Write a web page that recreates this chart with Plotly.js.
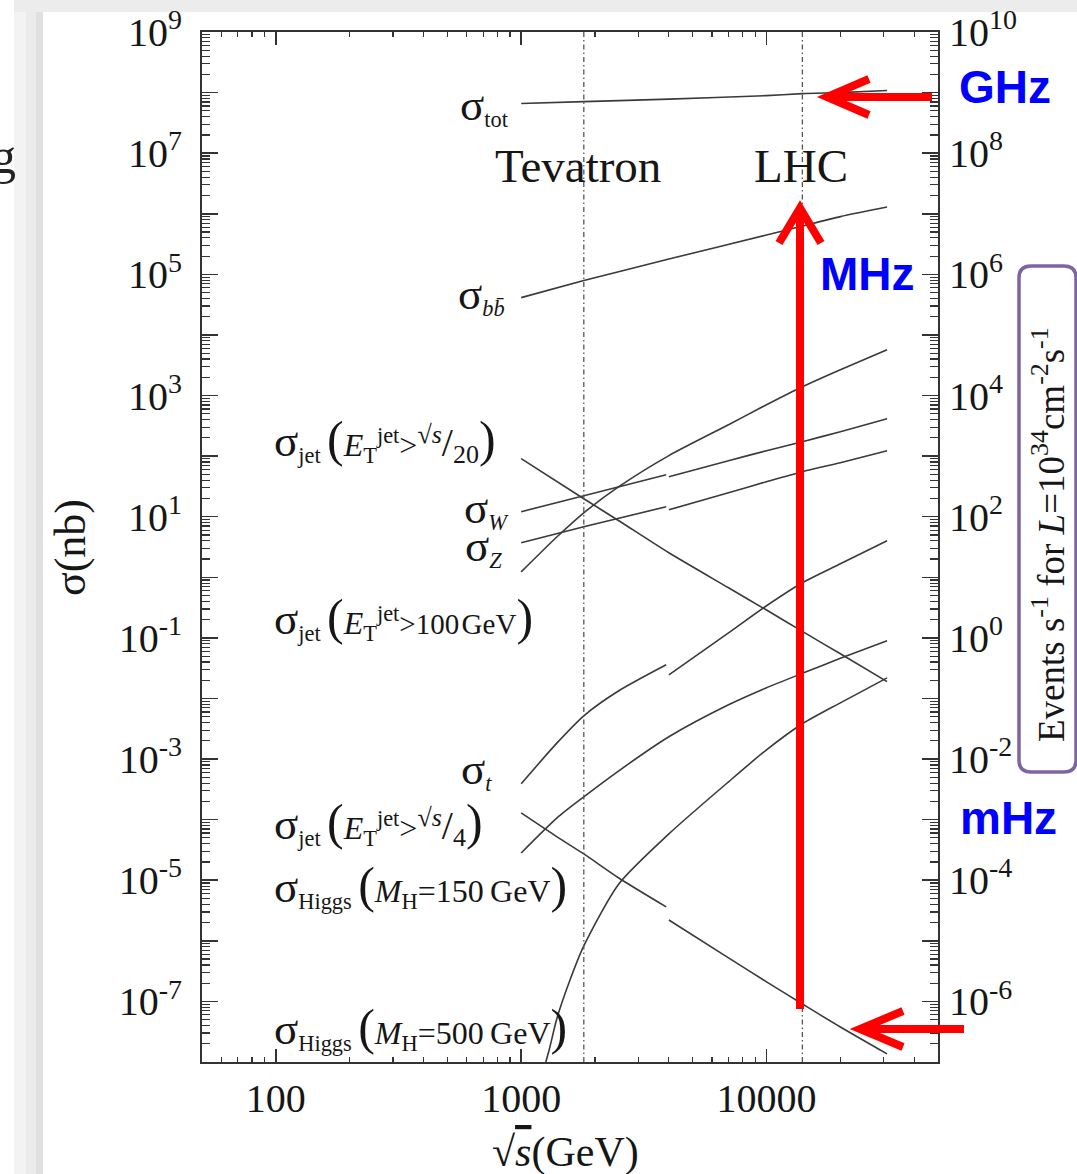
<!DOCTYPE html>
<html><head><meta charset="utf-8">
<script src="https://cdn.plot.ly/plotly-3.0.1.min.js"></script>
<style>html,body{margin:0;padding:0;background:#fff}</style>
</head><body><div id="chart" style="width:1077px;height:1174px"></div>
<script>
// ---- data (sqrt(s) in GeV, cross sections in nb) ----
const totX = [1000, 1800, 4000, 10000, 14000, 20000, 31000];
const totY = [6.6e7, 7.1e7, 7.8e7, 8.9e7, 9.6e7, 1.0e8, 1.08e8];

const bbX = [1000, 1800, 4000, 10000, 14000, 20000, 31000];
const bbY = [4.13e4, 7.89e4, 1.79e5, 4.45e5, 6.26e5, 8.98e5, 1.29e6];

const jet20X = [1000, 1800, 2500, 4000, 7000, 10000, 14000, 20000, 31000];
const jet20Y = [90.8, 19.8, 8.59, 2.54, 0.671, 0.288, 0.128, 0.0546, 0.0190];

const wPpbarX = [1000, 1800, 3900];
const wPpbarY = [12.1, 22.2, 49.3];
const wPpX = [4000, 7000, 10000, 14000, 20000, 31000];
const wPpY = [45.7, 84.0, 122.8, 173, 253, 415];

const zPpbarX = [1000, 1800, 3900];
const zPpbarY = [3.72, 6.84, 14.6];
const zPpX = [4000, 7000, 10000, 14000, 20000, 31000];
const zPpY = [13.0, 24.9, 37.8, 55.3, 77.9, 123];

const jet100X = [1000, 1400, 1800, 2500, 4000, 7000, 10000, 14000, 20000, 31000];
const jet100Y = [1.23, 4.67, 11.6, 31.3, 102, 330, 706, 1400, 2670, 5710];

const topPpbarX = [1000, 1400, 1800, 2500, 3900];
const topPpbarY = [3.9e-4, 1.85e-3, 5.18e-3, 0.0134, 0.036];
const topPpX = [4000, 7000, 10000, 14000, 20000, 31000];
const topPpY = [0.0246, 0.121, 0.339, 0.813, 1.67, 4.01];

const jet4PpbarX = [1000, 1400, 1800, 2500, 3900];
const jet4PpbarY = [1.29e-4, 5.2e-5, 2.72e-5, 1.09e-5, 3.63e-6];
const jet4PpX = [4000, 7000, 10000, 14000, 20000, 31000];
const jet4PpY = [2.21e-6, 5.22e-7, 2.1e-7, 9.08e-8, 3.78e-8, 1.36e-8];

const h150X = [1000, 1400, 1800, 2500, 4000, 7000, 10000, 14000, 20000, 31000];
const h150Y = [2.82e-5, 1.07e-4, 2.38e-4, 6.4e-4, 2.33e-3, 7.85e-3, 0.0150, 0.0260, 0.0460, 0.0896];

const h500X = [1260, 1300, 1400, 1570, 1800, 2500, 4000, 7000, 10000, 14000, 20000, 31000];
const h500Y = [1.0e-8, 1.58e-8, 5.33e-8, 2.09e-7, 8.24e-7, 8.69e-6, 5.82e-5, 4.21e-4, 1.42e-3, 3.82e-3, 8.47e-3, 0.0219];

const colliders = ['Tevatron', 'LHC'];
const colliderEnergy = [1800, 14000];

const xTickVals = [100, 1000, 10000];
const xTickText = ['100', '1000', '10000'];
const leftExps = [-8,-7,-6,-5,-4,-3,-2,-1,0,1,2,3,4,5,6,7,8,9];
const rightExps = [-6,-4,-2,0,2,4,6,8,10];
const rateLabels = ['GHz', 'MHz', 'mHz'];

// ---- layout helpers (pixel -> paper) ----
const Lp = 202, Rp = 938, Tp = 32, Bp = 1062;
const Wp = Rp - Lp, Hp = Bp - Tp;
const px = x => (x - Lp) / Wp;
const py = y => (Bp - y) / Hp;
function toPath(segs) {
  return segs.map(s => {
    const c = s[0]; const v = s.slice(1); const pts = [];
    for (let i = 0; i < v.length; i += 2) pts.push(px(v[i]).toFixed(5) + ',' + py(v[i+1]).toFixed(5));
    return c + ' ' + pts.join(' ');
  }).join(' ');
}

const SERIF = 'Liberation Serif, Times New Roman, serif';
const SANS = 'Liberation Sans, Arial, sans-serif';
const ink = '#161616';

function curve(x, y, name) {
  return {type:'scatter', mode:'lines', x:x, y:y, name:name,
    line:{color:'#3a3a3a', width:1.6, shape:'spline', smoothing:0.7},
    hoverinfo:'skip', showlegend:false};
}

const traces = [
  curve(totX, totY, 'sigma_tot'),
  curve(bbX, bbY, 'sigma_bb'),
  curve(jet20X, jet20Y, 'sigma_jet sqrt(s)/20'),
  curve(wPpbarX, wPpbarY, 'sigma_W ppbar'),
  curve(wPpX, wPpY, 'sigma_W pp'),
  curve(zPpbarX, zPpbarY, 'sigma_Z ppbar'),
  curve(zPpX, zPpY, 'sigma_Z pp'),
  curve(jet100X, jet100Y, 'sigma_jet 100 GeV'),
  curve(topPpbarX, topPpbarY, 'sigma_t ppbar'),
  curve(topPpX, topPpY, 'sigma_t pp'),
  curve(jet4PpbarX, jet4PpbarY, 'sigma_jet sqrt(s)/4 ppbar'),
  curve(jet4PpX, jet4PpY, 'sigma_jet sqrt(s)/4 pp'),
  curve(h150X, h150Y, 'sigma_Higgs 150'),
  curve(h500X, h500Y, 'sigma_Higgs 500')
];
colliderEnergy.forEach((e, i) => {
  traces.push({type:'scatter', mode:'lines', x:[e, e], y:[1e-8, 1e9], name:colliders[i],
    line:{color:'#555', width:1.3, dash:'5px,3px,1.5px,3px'}, hoverinfo:'skip', showlegend:false});
});
traces.push({type:'scatter', mode:'lines', x:[], y:[], yaxis:'y2', hoverinfo:'skip', showlegend:false});

const sup = e => '10<sup>' + (e < 0 ? '-' + (-e) : e) + '</sup>';
const tickFont = {family:SERIF, size:40, color:ink};

const SIG = '<span style="font-size:45px">σ</span>';
const LP = '<span style="font-size:50px">(</span>';
const RP = '<span style="font-size:50px">)</span>';
const ETJ = '<i>E</i><sub>T</sub><sup>jet</sup>';
const FRAC = d => '<sup><span style="font-size:26px">√<i>s</i></span></sup><span style="font-size:40px">/</span><sub><span style="font-size:26px">' + d + '</span></sub>';
const labelFont = {family:SERIF, size:32, color:ink};

function lab(text, x, y, anchor) {
  return {text:text, x:px(x), y:py(y), xref:'paper', yref:'paper', xanchor:anchor, yanchor:'middle',
    showarrow:false, font:labelFont};
}
function note(text, x, y, font, angle) {
  const a = {text:text, x:px(x), y:py(y), xref:'paper', yref:'paper', xanchor:'center', yanchor:'middle',
    showarrow:false, font:font};
  if (angle) a.textangle = angle;
  return a;
}

const annotations = [
  lab(SIG + '<sub>tot</sub>', 511, 106, 'right'),
  lab(SIG + '<sub><i>b</i><i>b̄</i></sub>', 507, 295, 'right'),
  lab(SIG + '<sub>jet</sub>\u2009' + LP + ETJ + '&gt;' + FRAC('20') + RP, 272, 440, 'left'),
  lab(SIG + '<sub><i>W</i></sub>', 511, 509, 'right'),
  lab(SIG + '<sub><i>Z</i></sub>', 504, 547, 'right'),
  lab(SIG + '<sub>jet</sub>\u2009' + LP + ETJ + '<span style="font-size:29px">&gt;100\u200AGeV</span>' + RP, 272, 617, 'left'),
  lab(SIG + '<sub><i>t</i></sub>', 494, 770, 'right'),
  lab(SIG + '<sub>jet</sub>\u2009' + LP + ETJ + '&gt;' + FRAC('4') + RP, 272, 823, 'left'),
  lab(SIG + '<sub>Higgs</sub>\u2009' + LP + '<i>M</i><sub>H</sub>=150\u2009GeV' + RP, 272, 885, 'left'),
  lab(SIG + '<sub>Higgs</sub>\u2009' + LP + '<i>M</i><sub>H</sub>=500\u2009GeV' + RP, 272, 1027, 'left'),
  note(colliders[0], 578, 166, {family:SERIF, size:47, color:ink}),
  note(colliders[1], 801, 166, {family:SERIF, size:47, color:ink}),
  note('<b>' + rateLabels[0] + '</b>', 1005, 87, {family:SANS, size:46, color:'#0000ff'}),
  note('<b>' + rateLabels[1] + '</b>', 867, 274, {family:SANS, size:46, color:'#0000ff'}),
  note('<b>' + rateLabels[2] + '</b>', 1008, 818, {family:SANS, size:46, color:'#0000ff'}),
  note('σ(nb)', 70, 548, {family:SERIF, size:44, color:ink}, -90),
  note('√<span style="text-decoration:overline"><i>s</i></span>(GeV)', 565, 1152, {family:SERIF, size:42, color:ink}),
  note('Events s<sup>-1</sup> for <i>L</i>=10<sup>34</sup>cm<sup>-2</sup>s<sup>-1</sup>', 1048, 535, {family:SERIF, size:37, color:ink}, -90),
  note('g', 3, 156, {family:SERIF, size:50, color:'#222'})
];

const red = {color:'#ff0000', width:8};
const r = 12, bx0 = 1019, bx1 = 1076, by0 = 266, by1 = 772;
const shapes = [
  {type:'rect', xref:'paper', yref:'paper', x0:px(14), x1:px(1077), y0:py(0), y1:py(12), fillcolor:'#ececec', line:{width:0}, layer:'below'},
  {type:'rect', xref:'paper', yref:'paper', x0:px(14), x1:px(26), y0:py(12), y1:py(1174), fillcolor:'#f3f3f3', line:{width:0}, layer:'below'},
  {type:'rect', xref:'paper', yref:'paper', x0:px(26), x1:px(36), y0:py(12), y1:py(1174), fillcolor:'#ebebeb', line:{width:0}, layer:'below'},
  {type:'rect', xref:'paper', yref:'paper', x0:px(36), x1:px(43), y0:py(12), y1:py(1174), fillcolor:'#e0e0e0', line:{width:0}, layer:'below'},
  {type:'path', xref:'paper', yref:'paper', layer:'above', line:{color:'#8064a2', width:3.5},
    path: toPath([['M', bx0 + r, by0], ['L', bx1 - r, by0], ['Q', bx1, by0, bx1, by0 + r], ['L', bx1, by1 - r],
      ['Q', bx1, by1, bx1 - r, by1], ['L', bx0 + r, by1], ['Q', bx0, by1, bx0, by1 - r], ['L', bx0, by0 + r],
      ['Q', bx0, by0, bx0 + r, by0]]) + ' Z'},
  {type:'path', xref:'paper', yref:'paper', layer:'above', line:red,
    path: toPath([['M', 932, 97], ['L', 830, 97], ['M', 869, 79], ['L', 827, 97], ['L', 869, 115]])},
  {type:'path', xref:'paper', yref:'paper', layer:'above', line:red,
    path: toPath([['M', 800, 1009], ['L', 800, 212], ['M', 779, 243], ['L', 800, 208], ['L', 821, 243]])},
  {type:'path', xref:'paper', yref:'paper', layer:'above', line:red,
    path: toPath([['M', 964, 1029], ['L', 862, 1029], ['M', 903, 1011], ['L', 860, 1029], ['L', 903, 1047]])}
];

const axLine = {showline:true, linecolor:'#333', linewidth:2, mirror:'ticks', showgrid:false, zeroline:false};

const layout = {
  width:1077, height:1174,
  margin:{l:Lp, r:1077 - Rp, t:Tp, b:1174 - Bp, pad:0},
  paper_bgcolor:'#ffffff', plot_bgcolor:'#ffffff',
  showlegend:false,
  xaxis: Object.assign({type:'log', range:[Math.log10(50), Math.log10(50000)], autorange:false,
    tickmode:'array', tickvals:xTickVals, ticktext:xTickText,
    ticks:'inside', ticklen:13, tickwidth:1.5, tickcolor:'#333', tickfont:tickFont, ticklabelstandoff:0,
    minor:{ticks:'inside', ticklen:5, tickwidth:1.2, tickcolor:'#333', dtick:'D1', showgrid:false}}, axLine),
  yaxis: Object.assign({type:'log', range:[-8, 9], autorange:false,
    tickmode:'array', tickvals:leftExps.map(e => Math.pow(10, e)),
    ticktext:leftExps.map(e => (Math.abs(e) % 2 === 1) ? sup(e) : ''),
    ticks:'inside', ticklen:16, tickwidth:1.5, tickcolor:'#333', tickfont:tickFont, ticklabelstandoff:10,
    minor:{ticks:'inside', ticklen:8, tickwidth:1.2, tickcolor:'#333', dtick:'D1', showgrid:false}}, axLine),
  yaxis2: {type:'log', range:[-7, 10], autorange:false, overlaying:'y', side:'right', anchor:'x',
    tickmode:'array', tickvals:rightExps.map(e => Math.pow(10, e)), ticktext:rightExps.map(sup),
    ticks:'', showline:false, showgrid:false, zeroline:false, tickfont:tickFont, ticklabelstandoff:10},
  annotations: annotations,
  shapes: shapes
};

Plotly.newPlot('chart', traces, layout, {displayModeBar:false, staticPlot:true});
</script></body></html>
